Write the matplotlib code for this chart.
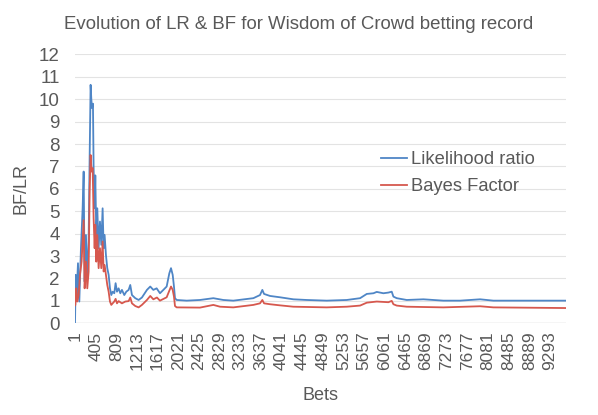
import matplotlib
matplotlib.use("Agg")
import matplotlib.pyplot as plt

plt.rcParams['font.family'] = ['Liberation Sans', 'DejaVu Sans']

# values (bet number, value)
lr_bets = [1, 15, 33, 59, 85, 117, 150, 170, 189, 215, 241, 267, 287, 306, 320, 333,
           352, 365, 385, 398, 417, 437, 463, 489, 515, 541, 561, 580, 606, 632, 659,
           685, 711, 737, 769, 795, 822, 854, 887, 919, 965, 1004, 1050, 1082, 1115,
           1180, 1245, 1310, 1408, 1473, 1533, 1598, 1663, 1729, 1794, 1846, 1879,
           1912, 1937, 1957, 1990, 2186, 2446, 2707, 2805, 2903, 3098, 3490, 3620,
           3666, 3699, 3816, 4012, 4272, 4534, 4925, 5317, 5578, 5709, 5839, 5904,
           6034, 6132, 6197, 6230, 6295, 6491, 6817, 7208, 7534, 7926, 8186, 8708, 9605]
lr_vals = [0.0, 2.16, 1.26, 2.68, 0.97, 3.35, 5.13, 6.77, 1.86, 3.94, 2.0, 3.65, 7.37,
           10.64, 10.0, 9.6, 9.8, 6.9, 5.13, 6.6, 3.94, 5.13, 3.35, 4.54, 3.5, 5.13,
           3.35, 3.94, 3.05, 2.46, 2.16, 1.56, 1.26, 1.41, 1.34, 1.79, 1.41, 1.56, 1.34,
           1.49, 1.26, 1.41, 1.49, 1.71, 1.26, 1.12, 1.04, 1.15, 1.49, 1.64, 1.49, 1.56,
           1.34, 1.49, 1.64, 2.23, 2.46, 2.16, 1.64, 1.12, 1.04, 1.01, 1.04, 1.12, 1.08,
           1.04, 1.01, 1.12, 1.26, 1.49, 1.31, 1.22, 1.16, 1.07, 1.04, 1.01, 1.04, 1.12,
           1.31, 1.34, 1.40, 1.34, 1.37, 1.41, 1.19, 1.12, 1.04, 1.07, 1.01, 1.01, 1.07,
           1.01, 1.01, 1.01]

bf_bets = [1, 7, 26, 46, 72, 98, 130, 170, 189, 215, 241, 267, 287, 306, 326, 346,
           365, 385, 398, 417, 437, 463, 489, 515, 541, 561, 580, 606, 632, 659, 685,
           711, 737, 769, 795, 822, 854, 919, 985, 1050, 1082, 1115, 1180, 1245, 1310,
           1408, 1473, 1533, 1604, 1663, 1794, 1879, 1912, 1937, 1957, 1990, 2446,
           2707, 2838, 3098, 3490, 3620, 3666, 3699, 3816, 4012, 4272, 4925, 5317,
           5578, 5709, 5904, 6132, 6197, 6230, 6295, 6491, 7208, 7926, 8186, 9605]
bf_vals = [0.8, 0.82, 1.56, 0.97, 1.26, 2.16, 2.75, 4.6, 1.56, 2.75, 1.56, 2.3, 5.88,
           7.51, 6.77, 6.92, 4.69, 3.35, 4.39, 2.75, 3.94, 2.46, 3.35, 2.46, 3.65, 2.31,
           2.6, 2.16, 1.71, 1.41, 0.97, 0.82, 0.89, 0.97, 1.09, 0.89, 0.99, 0.89, 0.97,
           0.99, 1.15, 0.89, 0.77, 0.71, 0.82, 1.04, 1.22, 1.07, 1.15, 1.01, 1.16, 1.64,
           1.49, 1.19, 0.77, 0.71, 0.70, 0.82, 0.74, 0.71, 0.82, 0.89, 1.04, 0.89, 0.85,
           0.80, 0.74, 0.71, 0.74, 0.79, 0.92, 0.97, 0.94, 1.0, 0.85, 0.79, 0.74, 0.71,
           0.76, 0.71, 0.68]

tick_bets = list(range(1, 9294, 404))

fig = plt.figure(figsize=(5.98, 4.15), dpi=100)
ax = fig.add_axes([0.1254, 0.221, 0.821, 0.648])

ax.plot(lr_bets, lr_vals, color='#4f86c6', lw=1.3, label='Likelihood ratio')
ax.plot(bf_bets, bf_vals, color='#d6584e', lw=1.3, label='Bayes Factor')

ax.set_xlim(0.5, 9605.5)
ax.set_ylim(0, 12)
ax.set_yticks(range(0, 13))
ax.set_xticks(tick_bets)
ax.set_xticklabels([str(t) for t in tick_bets], rotation=90)
ax.tick_params(axis='x', length=0, labelsize=12.5, colors='#595959', pad=6)
ax.tick_params(axis='y', length=0, labelsize=13.5, colors='#595959', pad=11)
ax.grid(axis='y', color='#e3e3e3', lw=0.8)
ax.set_axisbelow(True)
for s in ax.spines.values():
    s.set_visible(False)
ax.axhline(0, color='#d9d9d9', lw=1, zorder=0)

ax.set_xlabel('Bets', fontsize=13, color='#595959', labelpad=12)
ax.set_ylabel('BF/LR', fontsize=13, color='#595959', labelpad=7)
fig.suptitle('Evolution of LR & BF for Wisdom of Crowd betting record',
             fontsize=13.4, color='#595959', y=0.962)

ax.legend(loc='upper left', bbox_to_anchor=(0.609, 0.675), bbox_transform=fig.transFigure,
          frameon=False, fontsize=13.2, handlelength=1.45, handletextpad=0.2,
          labelspacing=0.55, labelcolor='#595959')

fig.savefig('out.png', dpi=100)
